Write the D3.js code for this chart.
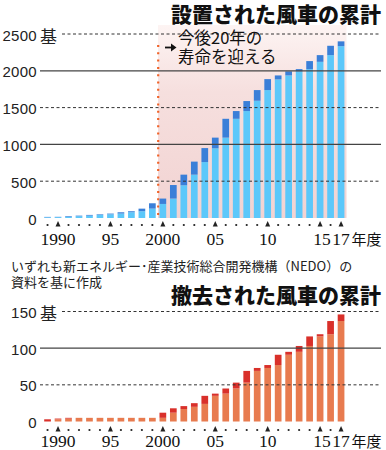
<!DOCTYPE html>
<html><head><meta charset="utf-8">
<script src="https://cdn.jsdelivr.net/npm/d3@7"></script>
<style>
html,body{margin:0;padding:0;background:#fff;}
svg{display:block;}
</style>
</head><body>
<script>
// ---- data ----
const years = [1989,1990,1991,1992,1993,1994,1995,1996,1997,1998,1999,2000,2001,2002,2003,2004,2005,2006,2007,2008,2009,2010,2011,2012,2013,2014,2015,2016,2017];
// 設置された風車の累計 (total) and the part carried over from the previous year (light)
const installedTotal = [15,16,25,32,42,50,60,78,92,127,200,264,448,589,766,950,1092,1348,1453,1589,1738,1887,1937,1992,2023,2132,2213,2340,2400];
const installedBase  = [10,12,16,25,32,42,50,60,78,92,127,191,264,445,589,760,947,1092,1348,1453,1593,1738,1883,1937,1992,2023,2122,2213,2335];
// 撤去された風車の累計
const removedTotal = [3,4,5,5,5,5,5,5,5,5,5,12,18,21,25,35,38,45,53,69,73,77,91,95,103,116,119,137,146];
const removedBase  = [0,3,4,5,5,5,5,5,5,5,5,5,12,17,20,24,35,38,45,53,69,73,77,91,95,103,116,119,137];
const topTicks = [0,500,1000,1500,2000,2500];
const bottomTicks = [0,50,100,150];
const yearLabels = [[1990,"1990"],[1995,"95"],[2000,"2000"],[2005,"05"],[2010,"10"],[2015,"15"],[2017,"17"]];
const topTitle = "設置された風車の累計";
const bottomTitle = "撤去された風車の累計";
const noteLines = ["いずれも新エネルギー･産業技術総合開発機構（NEDO）の","資料を基に作成"];
const annotLines = ["今後20年の","寿命を迎える"];

const W = 386, H = 450;
const svg = d3.select("body").append("svg").attr("width",W).attr("height",H);
svg.append("rect").attr("width",W).attr("height",H).attr("fill","#fff");

const sans = "'Liberation Sans', Arial, sans-serif";
const jp = "'Noto Sans CJK JP', sans-serif";
const serif = "'Liberation Serif', 'DejaVu Serif', serif";

const x = d3.scaleBand().domain(years).range([42.3,346.3]).paddingInner(0.36).paddingOuter(0.18);
const cx = d => x(d) + x.bandwidth()/2;

const defs = svg.append("defs");
const grad = defs.append("linearGradient").attr("id","pinkGrad").attr("x1",0).attr("y1",0).attr("x2",0).attr("y2",1);
grad.append("stop").attr("offset","0%").attr("stop-color","#fdf4f3");
grad.append("stop").attr("offset","35%").attr("stop-color","#f6dfde");
grad.append("stop").attr("offset","100%").attr("stop-color","#f2d3d2");

function panel(opts){
  const y = d3.scaleLinear().domain([0,opts.max]).range([opts.y0,opts.yTop]);
  const g = svg.append("g");
  if(opts.pink){
    g.append("rect").attr("x",x(2000)-1.5).attr("y",25)
      .attr("width",346.5-(x(2000)-1.5)).attr("height",y(0)-25)
      .attr("fill","url(#pinkGrad)");
    g.append("line").attr("x1",x(2000)-1.3).attr("x2",x(2000)-1.3)
      .attr("y1",45).attr("y2",y(0))
      .attr("stroke","#f0642a").attr("stroke-width",2.2).attr("stroke-dasharray","2,5.3");
  }
  // bars
  const bars = g.append("g");
  bars.selectAll("rect.base").data(years).join("rect")
    .attr("x",d=>x(d)).attr("width",x.bandwidth())
    .attr("y",(d,i)=>y(opts.base[i])).attr("height",(d,i)=>y(0)-y(opts.base[i]))
    .attr("fill",opts.light);
  bars.selectAll("rect.add").data(years).join("rect")
    .attr("x",d=>x(d)).attr("width",x.bandwidth())
    .attr("y",(d,i)=>y(opts.total[i])).attr("height",(d,i)=>Math.max(0,y(opts.base[i])-y(opts.total[i])))
    .attr("fill",opts.dark);
  // grid lines
  opts.ticks.forEach((t,i)=>{
    if(t===0) return;
    const solid = opts.solid.includes(t);
    const isTop = t===opts.max;
    g.append("line").attr("x1",isTop?62:40).attr("x2",381)
      .attr("y1",y(t)).attr("y2",y(t))
      .attr("stroke",solid?"#444":"#333").attr("stroke-width",solid?1.3:1)
      .attr("stroke-dasharray",solid?null:"3,2.5");
  });
  // y labels
  opts.ticks.forEach(t=>{
    g.append("text").attr("x",37).attr("y",y(t)+1).attr("text-anchor","end")
      .attr("dominant-baseline","central")
      .attr("font-family",sans).attr("font-size",15).attr("fill","#222")
      .attr("letter-spacing",0.3).text(t);
  });
  g.append("text").attr("x",40).attr("y",y(opts.max)+1).attr("dominant-baseline","central")
    .attr("font-family",jp).attr("font-size",17).attr("fill","#222").text("基");
  // x ticks
  const ty = opts.tickY;
  const major = yearLabels.map(d=>d[0]);
  years.forEach(yr=>{
    if(major.includes(yr)){
      const c = cx(yr);
      g.append("path").attr("d",`M${c-2.5},${ty+2.5}L${c+2.5},${ty+2.5}L${c},${ty-3}Z`).attr("fill","#222");
    } else {
      g.append("circle").attr("cx",cx(yr)).attr("cy",ty+1).attr("r",1.1).attr("fill","#222");
    }
  });
  yearLabels.forEach(([yr,lab])=>{
    g.append("text").attr("x",cx(yr)+(yr===2015?2:0)).attr("y",opts.labelY).attr("text-anchor","middle")
      .attr("font-family",serif).attr("font-size",17.5).attr("fill","#111").text(lab);
  });
  g.append("text").attr("x",351.5).attr("y",opts.labelY).attr("font-family",jp)
    .attr("font-size",15).attr("fill","#111").text("年度");
  // title
  g.append("text").attr("x",381).attr("y",opts.titleY).attr("text-anchor","end")
    .attr("font-family",jp).attr("font-weight",900).attr("font-size",21).attr("fill","#111")
    .text(opts.title);
  return y;
}

panel({max:2500, y0:218, yTop:34, ticks:topTicks, solid:[1000,2000],
  total:installedTotal, base:installedBase, light:"#5cc8fa", dark:"#3a7fd8",
  pink:true, tickY:224, labelY:245, titleY:22, title:topTitle});

panel({max:150, y0:421.5, yTop:311.5, ticks:bottomTicks, solid:[100],
  total:removedTotal, base:removedBase, light:"#e87b4f", dark:"#d9302a",
  pink:false, tickY:429, labelY:447, titleY:303, title:bottomTitle});

// annotation arrow
svg.append("path").attr("d","M165,47.5H174").attr("stroke","#111").attr("stroke-width",1.8).attr("fill","none");
svg.append("path").attr("d","M171,43.5L176.5,47.5L171,51.5Z").attr("fill","#111");
const annot = svg.append("text").attr("font-family",jp).attr("font-size",16.5).attr("fill","#111");
annotLines.forEach((t,i)=>{
  annot.append("tspan").attr("x",178).attr("y",44+i*18.5).text(t);
});
// source note
const note = svg.append("text").attr("font-family",jp).attr("font-size",13).attr("fill","#222");
noteLines.forEach((t,i)=>{
  note.append("tspan").attr("x",11).attr("y",271+i*15.5).text(t);
});
</script>
</body></html>
